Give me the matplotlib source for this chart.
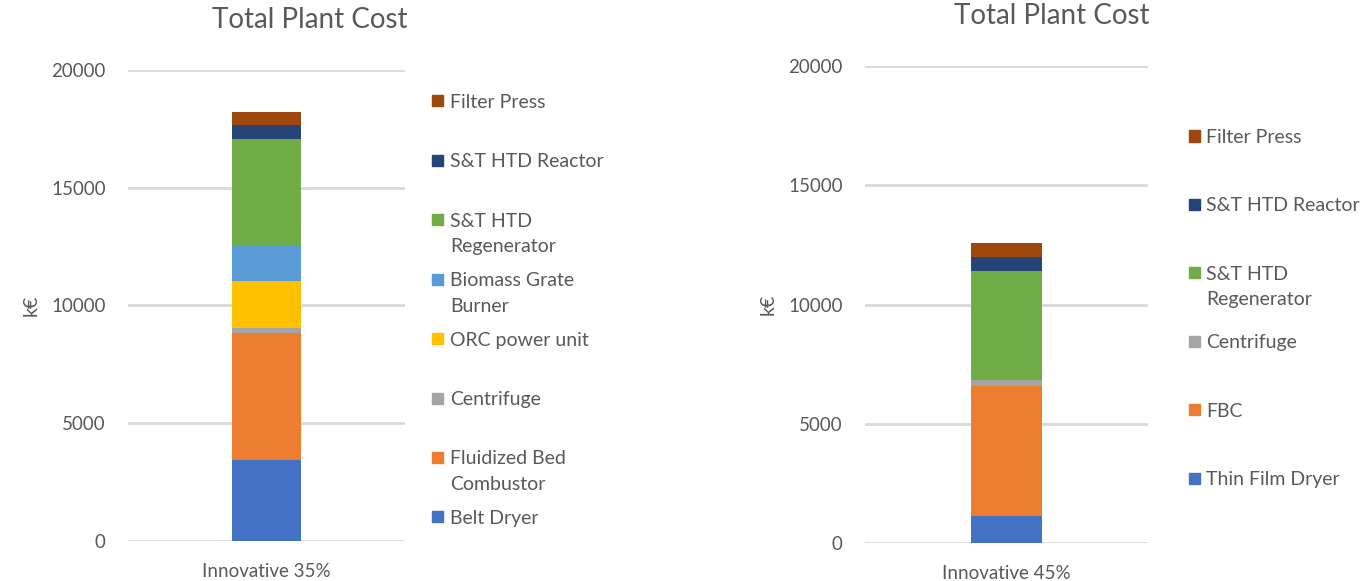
import numpy as np
import matplotlib.pyplot as plt
from matplotlib.patches import Rectangle

plt.rcParams['font.family'] = ['Lato', 'DejaVu Sans']

# Innovative 35% (k€), bottom -> top
left_cat = "Innovative 35%"
left_labels = ["Belt Dryer", "Fluidized Bed\nCombustor", "Centrifuge", "ORC power unit",
               "Biomass Grate\nBurner", "S&T HTD\nRegenerator", "S&T HTD Reactor", "Filter Press"]
left_values = [3450, 5400, 200, 1980, 1490, 4570, 580, 530]
left_colors = ["#4472C4", "#ED7D31", "#A5A5A5", "#FFC000", "#5B9BD5", "#70AD47", "#264478", "#9E480E"]

# Innovative 45% (k€), bottom -> top
right_cat = "Innovative 45%"
right_labels = ["Thin Film Dryer", "FBC", "Centrifuge", "S&T HTD\nRegenerator",
                "S&T HTD Reactor", "Filter Press"]
right_values = [1125, 5455, 254, 4583, 592, 563]
right_colors = ["#4472C4", "#ED7D31", "#A5A5A5", "#70AD47", "#264478", "#9E480E"]

yticks = [0, 5000, 10000, 15000, 20000]
txt = "#595959"
grid = "#D9D9D9"

W, H = 1370, 581
fig = plt.figure(figsize=(W / 100, H / 100), dpi=100)


def fx(px):
    return px / W


def fy(py):
    return 1 - py / H


def stack(ax, cat, values, colors):
    bottom = 0
    for v, c in zip(values, colors):
        ax.bar([cat], [v], bottom=bottom, width=0.25, color=c, zorder=3)
        bottom += v
    ax.set_xlim(-0.5, 0.5)
    ax.set_ylim(0, 20000)
    ax.set_yticks(yticks)
    ax.yaxis.grid(True, color=grid, linewidth=2, zorder=0)
    for s in ax.spines.values():
        s.set_visible(False)
    ax.tick_params(axis='both', length=0, labelsize=13.5, colors=txt)
    ax.tick_params(axis='y', pad=16)
    ax.tick_params(axis='x', pad=16)
    ax.set_ylabel("k€", fontsize=14, color=txt, labelpad=8)


def legend(labels, colors, x_mark, x_text, y_top, step):
    n = len(labels)
    for i in range(n):
        # legend lists series top -> bottom
        lab = labels[n - 1 - i]
        col = colors[n - 1 - i]
        y = y_top + i * step
        fig.patches.append(Rectangle((fx(x_mark - 5.5), fy(y + 5.5)), 11 / W, 11 / H,
                                     transform=fig.transFigure, color=col))
        fig.text(fx(x_text), fy(y - 7), lab, fontsize=14, color=txt,
                 va='top', ha='left', linespacing=1.6)


ax1 = fig.add_axes([fx(128), fy(541), fx(405 - 128), fy(70) - fy(541)])
stack(ax1, left_cat, left_values, left_colors)
fig.text(fx(310), fy(20), "Total Plant Cost", fontsize=20, color=txt, ha='center', va='center')
legend(left_labels, left_colors, 437.5, 450, 101, 59.4)

ax2 = fig.add_axes([fx(865), fy(543), fx(1148 - 865), fy(66) - fy(543)])
stack(ax2, right_cat, right_values, right_colors)
fig.text(fx(1052), fy(16), "Total Plant Cost", fontsize=20, color=txt, ha='center', va='center')
legend(right_labels, right_colors, 1194, 1206, 136, 68.4)

fig.savefig("out.png", dpi=100)
